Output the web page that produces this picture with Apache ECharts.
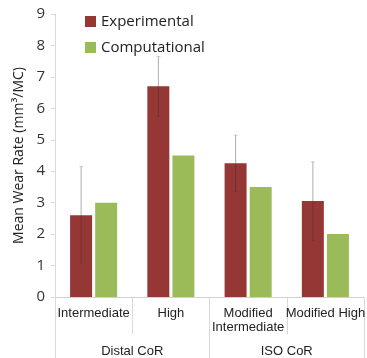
<!DOCTYPE html>
<html>
<head>
<meta charset="utf-8">
<script src="https://cdn.jsdelivr.net/npm/echarts@6/dist/echarts.min.js"></script>
<style>html,body{margin:0;padding:0;background:#fff;}#c{width:367px;height:358px;}</style>
</head>
<body>
<div id="c"></div>
<script>
var categories = ['Intermediate', 'High', 'Modified\nIntermediate', 'Modified High'];
var groups = ['Distal CoR', 'ISO CoR'];
var experimental = [2.6, 6.7, 4.25, 3.05];
var experimentalErr = [1.55, 0.95, 0.9, 1.25];
var computational = [3.0, 4.5, 3.5, 2.0];
var yTicks = [0, 1, 2, 3, 4, 5, 6, 7, 8, 9];

var chart = echarts.init(document.getElementById('c'));
var errData = experimental.map(function (v, i) { return [i, v - experimentalErr[i], v + experimentalErr[i]]; });

chart.setOption({
  animation: false,
  grid: { left: 55, top: 14, width: 318, height: 284 },
  legend: {
    orient: 'vertical', left: 80, top: 9,
    itemWidth: 11, itemHeight: 11, itemGap: 11,
    icon: 'rect',
    textStyle: { fontFamily: 'Open Sans', fontSize: 15, color: '#222' },
    data: ['Experimental', 'Computational']
  },
  xAxis: [{
    type: 'category', data: categories,
    axisLine: { lineStyle: { color: '#d0d0d0' } },
    axisTick: { show: true, length: 37, lineStyle: { color: '#d9d9d9' } },
    axisLabel: { interval: 0, margin: 9, fontFamily: 'Liberation Sans', fontSize: 13, color: '#222', lineHeight: 14 }
  }, {
    type: 'category', data: groups, position: 'bottom', gridIndex: 0,
    axisLine: { show: false },
    axisTick: { show: true, length: 62, lineStyle: { color: '#d9d9d9' } },
    axisLabel: { interval: 0, margin: 48, fontFamily: 'Liberation Sans', fontSize: 13, color: '#222' }
  }],
  yAxis: {
    type: 'value', min: yTicks[0], max: yTicks[yTicks.length - 1], interval: 1,
    name: 'Mean Wear Rate (mm³/MC)', nameLocation: 'middle', nameGap: 29, nameRotate: 90,
    nameTextStyle: { fontFamily: 'Open Sans', fontSize: 14, color: '#222' },
    axisLine: { show: true, lineStyle: { color: '#d9d9d9' } },
    axisTick: { show: true, length: 4, lineStyle: { color: '#d9d9d9' } },
    splitLine: { show: false },
    axisLabel: { fontFamily: 'Open Sans', fontSize: 15, color: '#333', margin: 10 }
  },
  series: [{
    name: 'Experimental', type: 'bar', data: experimental,
    barWidth: 22, barGap: '14%',
    itemStyle: { color: '#953735' }
  }, {
    name: 'Computational', type: 'bar', data: computational,
    barWidth: 22, barGap: '14%',
    itemStyle: { color: '#9bbb59' }
  }, {
    type: 'custom', name: 'err', data: errData, z: 10,
    renderItem: function (params, api) {
      var i = api.value(0);
      var lo = api.coord([i, api.value(1)]);
      var hi = api.coord([i, api.value(2)]);
      var x = lo[0] - 12.5;
      var st = { stroke: 'rgba(50,50,50,0.4)', lineWidth: 1 };
      return { type: 'group', children: [
        { type: 'line', shape: { x1: x, y1: lo[1], x2: x, y2: hi[1] }, style: st },
        { type: 'line', shape: { x1: x - 2, y1: hi[1], x2: x + 2, y2: hi[1] }, style: { stroke: 'rgba(50,50,50,0.2)', lineWidth: 1 } },
        { type: 'line', shape: { x1: x - 2, y1: lo[1], x2: x + 2, y2: lo[1] }, style: { stroke: 'rgba(50,50,50,0.2)', lineWidth: 1 } }
      ]};
    }
  }]
});
</script>
</body>
</html>
